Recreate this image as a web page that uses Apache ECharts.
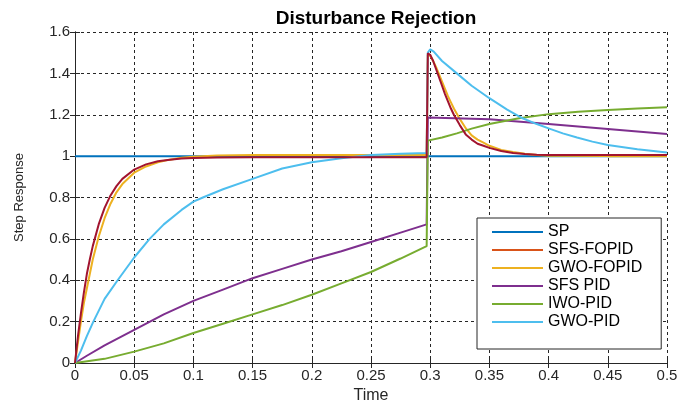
<!DOCTYPE html>
<html>
<head>
<meta charset="utf-8">
<script src="https://cdn.jsdelivr.net/npm/echarts@6/dist/echarts.min.js"></script>
<style>html,body{margin:0;padding:0;background:#fff}#c{width:693px;height:402px}</style>
</head>
<body>
<div id="c"></div>
<script>
// ---- data ----
const seriesNames = ['SP', 'SFS-FOPID', 'GWO-FOPID', 'SFS PID', 'IWO-PID', 'GWO-PID'];
const xTickLabels = ['0','0.05','0.1','0.15','0.2','0.25','0.3','0.35','0.4','0.45','0.5'];
const yTickLabels = ['0','0.2','0.4','0.6','0.8','1','1.2','1.4','1.6'];

const tSP = [0, 0.5];
const ySP = [1, 1];

const tFOPID = [0, 0.0025, 0.005, 0.0075, 0.01, 0.0125, 0.015, 0.02, 0.025, 0.03, 0.035, 0.04, 0.05, 0.06, 0.07, 0.08, 0.09, 0.1, 0.12, 0.15, 0.2, 0.25, 0.297, 0.298, 0.3, 0.3025, 0.305, 0.3075, 0.31, 0.3125, 0.315, 0.3175, 0.32, 0.325, 0.33, 0.335, 0.34, 0.345, 0.35, 0.36, 0.37, 0.38, 0.39, 0.4, 0.45, 0.5];
const ySFSFOPID = [0, 0.13, 0.24, 0.34, 0.43, 0.50, 0.565, 0.67, 0.75, 0.81, 0.855, 0.89, 0.935, 0.96, 0.975, 0.983, 0.988, 0.991, 0.993, 0.995, 0.995, 0.995, 0.995, 1.497, 1.49, 1.46, 1.42, 1.38, 1.34, 1.30, 1.265, 1.23, 1.20, 1.15, 1.105, 1.08, 1.06, 1.05, 1.04, 1.025, 1.015, 1.01, 1.007, 1.005, 1.005, 1.005];
const yGWOFOPID = [0, 0.10, 0.20, 0.29, 0.36, 0.43, 0.50, 0.61, 0.70, 0.77, 0.825, 0.865, 0.92, 0.95, 0.97, 0.983, 0.992, 0.997, 1.003, 1.005, 1.005, 1.005, 1.005, 1.49, 1.485, 1.46, 1.43, 1.395, 1.36, 1.325, 1.29, 1.26, 1.23, 1.18, 1.135, 1.10, 1.08, 1.065, 1.05, 1.03, 1.02, 1.012, 1.006, 1.002, 1.0, 1.0];

const tSFSPID = [0, 0.01, 0.025, 0.05, 0.075, 0.1, 0.125, 0.15, 0.175, 0.2, 0.225, 0.25, 0.275, 0.297, 0.298, 0.35, 0.4, 0.45, 0.5];
const ySFSPID = [0, 0.035, 0.085, 0.16, 0.235, 0.30, 0.355, 0.41, 0.455, 0.50, 0.54, 0.585, 0.63, 0.67, 1.187, 1.178, 1.155, 1.131, 1.107];

const tIWOPID = [0, 0.025, 0.05, 0.075, 0.1, 0.125, 0.15, 0.175, 0.2, 0.225, 0.25, 0.275, 0.297, 0.298, 0.31, 0.3225, 0.335, 0.35, 0.375, 0.4, 0.425, 0.45, 0.475, 0.5];
const yIWOPID = [0, 0.02, 0.055, 0.095, 0.145, 0.19, 0.235, 0.28, 0.33, 0.385, 0.44, 0.505, 0.565, 1.075, 1.09, 1.11, 1.133, 1.155, 1.183, 1.203, 1.214, 1.223, 1.23, 1.236];

const tGWOPID = [0, 0.005, 0.01, 0.0155, 0.025, 0.036, 0.05, 0.063, 0.075, 0.09, 0.1, 0.108, 0.125, 0.15, 0.175, 0.2, 0.225, 0.25, 0.275, 0.297, 0.298, 0.3, 0.303, 0.31, 0.3225, 0.335, 0.35, 0.365, 0.378, 0.39, 0.4, 0.412, 0.424, 0.437, 0.45, 0.475, 0.5];
const yGWOPID = [0, 0.06, 0.13, 0.2, 0.31, 0.4, 0.51, 0.6, 0.67, 0.74, 0.78, 0.80, 0.84, 0.89, 0.94, 0.97, 0.99, 1.005, 1.012, 1.015, 1.5, 1.516, 1.505, 1.46, 1.40, 1.34, 1.28, 1.225, 1.183, 1.155, 1.134, 1.11, 1.09, 1.07, 1.054, 1.033, 1.017];

// ---- styling ----
const lineColors = {
  'SP': '#0072BD',
  'SFS-FOPID': '#A2142F',
  'GWO-FOPID': '#EDB120',
  'SFS PID': '#7E2F8E',
  'IWO-PID': '#77AC30',
  'GWO-PID': '#4DBEEE'
};
const legendColors = Object.assign({}, lineColors, {'SFS-FOPID': '#D95319'});

const pairs = (t, y) => t.map((x, i) => [x, y[i]]);
const FONT = 'Liberation Sans, Arial, sans-serif';
const AX = '#262626';

function mkSeries(name, t, y, z) {
  return {
    name, type: 'line', data: pairs(t, y), symbol: 'none', z: z,
    lineStyle: { width: 2, color: lineColors[name] },
    itemStyle: { color: lineColors[name] },
    animation: false
  };
}

const chart = echarts.init(document.getElementById('c'), null, { renderer: 'canvas' });
const gridSplit = { show: true, lineStyle: { color: AX, type: [3, 3], width: 1 } };

chart.setOption({
  animation: false,
  backgroundColor: '#fff',
  title: {
    text: 'Disturbance Rejection', left: 371, top: 4, textAlign: 'center',
    textStyle: { fontFamily: FONT, fontSize: 19, fontWeight: 'bold', color: '#000' }
  },
  grid: { left: 75, right: 26, top: 32, bottom: 39, containLabel: false, outerBoundsMode: 'none' },
  legend: {
    orient: 'vertical', left: 477, top: 218,
    data: seriesNames.map(n => ({ name: n, itemStyle: { color: legendColors[n] } })),
    icon: 'rect', itemWidth: 51, itemHeight: 2, itemGap: 2,
    textStyle: { fontFamily: FONT, fontSize: 16, color: '#000', lineHeight: 14 },
    backgroundColor: '#fff', borderColor: AX, borderWidth: 1,
    padding: [6, 19, 19, 15]
  },
  xAxis: [{
    type: 'value', min: 0, max: 0.5, interval: 0.05, position: 'bottom',
    axisLine: { show: true, lineStyle: { color: AX } },
    axisTick: { show: true, inside: true, length: 5, lineStyle: { color: AX } },
    axisLabel: { fontFamily: FONT, fontSize: 15, color: AX, margin: 5,
      formatter: v => xTickLabels[Math.round(v / 0.05)] },
    splitLine: gridSplit,
    name: 'Time', nameLocation: 'middle', nameGap: 22,
    nameTextStyle: { fontFamily: FONT, fontSize: 16, color: AX }
  }, {
    type: 'value', min: 0, max: 0.5, interval: 0.05, position: 'top',
    axisLine: { show: true, lineStyle: { color: AX } },
    axisTick: { show: true, inside: true, length: 5, lineStyle: { color: AX } },
    axisLabel: { show: false }, splitLine: { show: false }
  }],
  yAxis: [{
    type: 'value', min: 0, max: 1.6, interval: 0.2, position: 'left',
    axisLine: { show: true, lineStyle: { color: AX } },
    axisTick: { show: true, inside: true, length: 5, lineStyle: { color: AX } },
    axisLabel: { fontFamily: FONT, fontSize: 15, color: AX, margin: 5,
      formatter: v => yTickLabels[Math.round(v / 0.2)] },
    splitLine: gridSplit,
    name: 'Step Response', nameLocation: 'middle', nameGap: 49,
    nameTextStyle: { fontFamily: FONT, fontSize: 13, color: AX }
  }, {
    type: 'value', min: 0, max: 1.6, interval: 0.2, position: 'right',
    axisLine: { show: true, lineStyle: { color: AX } },
    axisTick: { show: true, inside: true, length: 5, lineStyle: { color: AX } },
    axisLabel: { show: false }, splitLine: { show: false }
  }],
  series: [
    mkSeries('SP', tSP, ySP, 2),
    mkSeries('GWO-FOPID', tFOPID, yGWOFOPID, 3),
    mkSeries('SFS PID', tSFSPID, ySFSPID, 3),
    mkSeries('IWO-PID', tIWOPID, yIWOPID, 3),
    mkSeries('GWO-PID', tGWOPID, yGWOPID, 3),
    mkSeries('SFS-FOPID', tFOPID, ySFSFOPID, 4)
  ]
});
</script>
</body>
</html>
